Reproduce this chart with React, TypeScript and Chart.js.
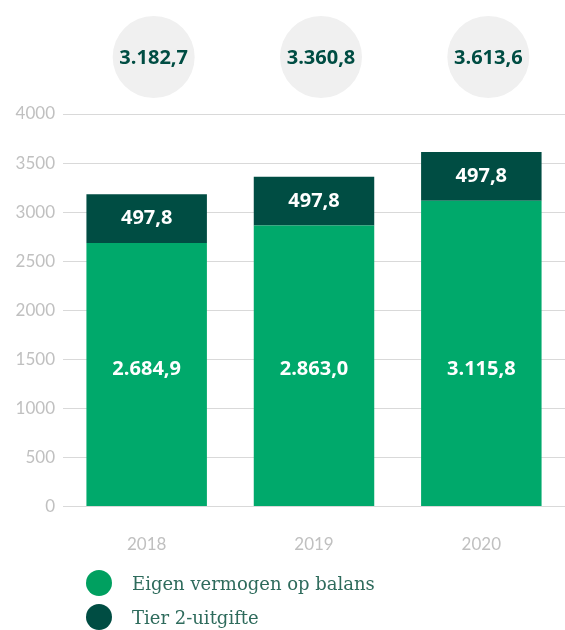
import React, { useEffect, useRef } from "react";
import { Chart, registerables } from "chart.js";

Chart.register(...registerables);

const categories = ["2018", "2019", "2020"];
const eigenVermogen = [2684.9, 2863.0, 3115.8];
const tier2 = [497.8, 497.8, 497.8];
const yTicks = [0, 500, 1000, 1500, 2000, 2500, 3000, 3500, 4000];
const seriesNames = ["Eigen vermogen op balans", "Tier 2-uitgifte"];

const GREEN = "#00a96b";
const DARK = "#004d43";

const fmt = (v: number) =>
  v.toLocaleString("nl-NL", { minimumFractionDigits: 1, maximumFractionDigits: 1 });

export default function App() {
  const ref = useRef<HTMLCanvasElement | null>(null);
  useEffect(() => {
    document.body.style.margin = "0";
    const labelsPlugin = {
      id: "labels",
      afterDatasetsDraw(chart: any) {
        const ctx = chart.ctx;
        const x = chart.scales.x;
        const y = chart.scales.y;
        ctx.save();
        ctx.textAlign = "center";
        ctx.textBaseline = "middle";
        categories.forEach((_, i) => {
          const cx = x.getPixelForValue(i);
          ctx.fillStyle = "#ffffff";
          ctx.font = "bold 20px 'Open Sans'";
          ctx.fillText(fmt(eigenVermogen[i]), cx, y.getPixelForValue(1400));
          const top = y.getPixelForValue(eigenVermogen[i] + tier2[i]);
          const bot = y.getPixelForValue(eigenVermogen[i]);
          ctx.fillText(fmt(tier2[i]), cx, (top + bot) / 2);
          const ccx = cx + 7;
          const ccy = 57;
          ctx.beginPath();
          ctx.arc(ccx, ccy, 41, 0, Math.PI * 2);
          ctx.fillStyle = "#f0f0f0";
          ctx.fill();
          ctx.fillStyle = DARK;
          ctx.font = "bold 20px 'Open Sans'";
          ctx.fillText(fmt(eigenVermogen[i] + tier2[i]), ccx, ccy + 1);
        });
        ctx.restore();
      },
    };
    const chart = new Chart(ref.current!, {
      type: "bar",
      data: {
        labels: categories,
        datasets: [
          {
            label: seriesNames[0],
            data: eigenVermogen,
            backgroundColor: GREEN,
            categoryPercentage: 1,
            barPercentage: 0.72,
          },
          {
            label: seriesNames[1],
            data: tier2,
            backgroundColor: DARK,
            categoryPercentage: 1,
            barPercentage: 0.72,
          },
        ],
      },
      options: {
        animation: false,
        responsive: false,
        layout: { padding: { top: 114, bottom: 55, left: 0, right: 0 } },
        plugins: { legend: { display: false }, tooltip: { enabled: false } },
        scales: {
          x: {
            stacked: true,
            grid: { display: false },
            border: { display: false },
            ticks: {
              color: "#c0c0c0",
              font: { family: "Lato", size: 17 },
              padding: 20,
            },
          },
          y: {
            stacked: true,
            min: 0,
            max: 4000,
            afterFit: (axis: any) => {
              axis.width = 63;
            },
            afterBuildTicks: (axis: any) => {
              axis.ticks = yTicks.map((v) => ({ value: v }));
            },
            grid: { color: "#d9d9d9", drawTicks: false, lineWidth: 1 },
            border: { display: false },
            ticks: {
              color: "#c0c0c0",
              font: { family: "Lato", size: 17 },
              padding: 8,
              callback: (v: any) => String(v),
            },
          },
        },
      },
      plugins: [labelsPlugin],
    });
    return () => chart.destroy();
  }, []);

  const legendItem = (name: string, color: string, top: number) => (
    <div
      style={{
        position: "absolute",
        left: 86,
        top,
        display: "flex",
        alignItems: "center",
        height: 28,
      }}
    >
      <span
        style={{
          width: 26,
          height: 26,
          borderRadius: "50%",
          background: color,
          display: "inline-block",
        }}
      />
      <span
        style={{
          marginLeft: 20,
          fontFamily: "'DejaVu Serif'",
          fontSize: 18,
          color: "#2e6b5c",
        }}
      >
        {name}
      </span>
    </div>
  );

  return (
    <div style={{ position: "relative", width: 565, height: 630 }}>
      <canvas ref={ref} width={565} height={630} style={{ display: "block" }} />
      {legendItem(seriesNames[0], "#00a060", 569)}
      {legendItem(seriesNames[1], DARK, 603)}
    </div>
  );
}
